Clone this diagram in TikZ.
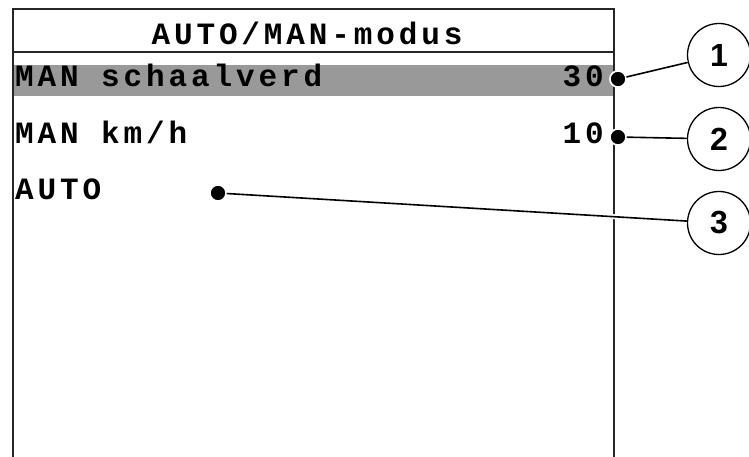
\documentclass[tikz,border=0pt]{standalone}
\usepackage{fontspec}
\setmainfont{Liberation Sans}
\newfontfamily\lcdfont[LetterSpace=12.5]{Liberation Mono Bold}
\begin{document}
\begin{tikzpicture}[x=1pt,y=-1pt,
  frameline/.style={line width=1.4pt,draw=black!85},
  lcdtext/.style={inner sep=0pt,font=\lcdfont\fontsize{31}{31}\selectfont},
  leader/.style={line width=1.6pt,preaction={draw=white,line width=5pt}},
  dotmark/.style={circle,fill=black,draw=white,line width=1.5pt,inner sep=0pt,minimum size=16pt},
  callout/.style={circle,draw=black,line width=1.3pt,minimum size=63pt,inner sep=0pt,
    font=\bfseries\fontsize{32}{32}\selectfont}]
\useasboundingbox (0,0) rectangle (749,457);
% screen frame
\fill[fill=black!40] (13,65) rectangle (613,96);
\draw[frameline] (13,457) -- (13,9) -- (614,9) -- (614,457);
\draw[frameline] (13,52) -- (614,52);
% texts
\node[lcdtext,anchor=base] (title) at (307,45) {AUTO/MAN-modus};
\node[lcdtext,anchor=base west] (t1) at (15,87) {MAN schaalverd};
\node[lcdtext,anchor=base east] (v1) at (604,87) {30};
\node[lcdtext,anchor=base west] (t2) at (15,144) {MAN km/h};
\node[lcdtext,anchor=base east] (v2) at (604,144) {10};
\node[lcdtext,anchor=base west] (t3) at (15,200) {AUTO};
% callouts
\node[callout] (c1) at (719,55) {1};
\node[callout] (c2) at (719,139) {2};
\node[callout] (c3) at (719,223) {3};
% dots
\node[dotmark] (d1) at (618,79) {};
\node[dotmark] (d2) at (618,137) {};
\node[dotmark] (d3) at (218,193) {};
% leaders
\draw[leader] (d1.center) -- (c1);
\draw[leader] (d2.center) -- (c2);
\draw[leader] (d3.center) -- (c3);
\node[dotmark] at (d1) {};
\node[dotmark] at (d2) {};
\node[dotmark] at (d3) {};
\end{tikzpicture}
\end{document}
